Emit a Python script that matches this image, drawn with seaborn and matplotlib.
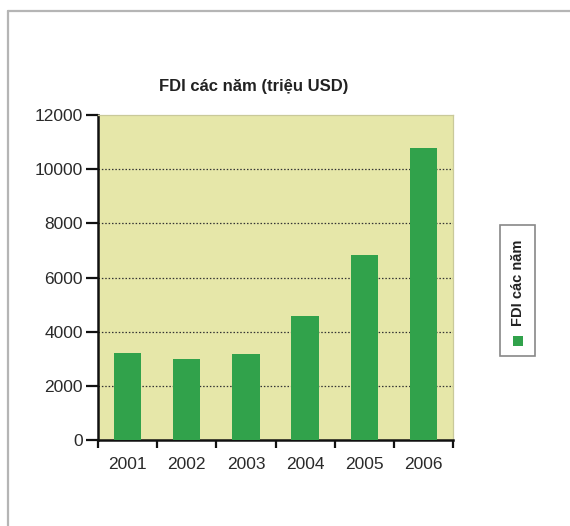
import matplotlib
matplotlib.use("Agg")
import matplotlib.pyplot as plt
from matplotlib.lines import Line2D
from matplotlib.patches import Rectangle
import seaborn as sns
import pandas as pd

# Data
years = ["2001", "2002", "2003", "2004", "2005", "2006"]
fdi = [3200, 3000, 3190, 4580, 6830, 10780]
y_ticks = [0, 2000, 4000, 6000, 8000, 10000, 12000]

title = "FDI các năm (triệu USD)"
legend_label = "FDI các năm"

BAR_COLOR = "#31a24b"
BG_COLOR = "#e6e7a9"
FONT = ["Liberation Sans Narrow", "Liberation Sans", "DejaVu Sans"]

sns.set_style("ticks")
plt.rcParams["font.family"] = FONT

df = pd.DataFrame({"Year": years, "FDI": fdi})

fig = plt.figure(figsize=(5.7, 5.26), dpi=100)
ax = fig.add_axes([98 / 570, 1 - 440 / 526, 355 / 570, 325 / 526])
ax.set_facecolor(BG_COLOR)

sns.barplot(data=df, x="Year", y="FDI", color=BAR_COLOR, width=0.46,
            saturation=1, edgecolor="none", linewidth=0, ax=ax, zorder=3)

ax.set_xlim(-0.5, len(years) - 0.5)
ax.set_ylim(0, 12000)
ax.set_yticks(y_ticks)
ax.set_yticklabels([str(v) for v in y_ticks], fontsize=12.5, color="#2a2a2a")
ax.set_xticks(range(len(years)))
ax.set_xticklabels(years, fontsize=12.5, color="#2a2a2a")
ax.set_xlabel("")
ax.set_ylabel("")

# ticks between categories on x, outward ticks on y
ax.set_xticks([i - 0.5 for i in range(len(years) + 1)], minor=True)
ax.tick_params(axis="x", which="major", length=0, pad=12)
ax.tick_params(axis="x", which="minor", length=6, width=1.6, color="#111111")
ax.tick_params(axis="y", length=9, width=1.6, color="#111111", pad=2)

# dotted gridlines
for v in y_ticks[1:-1]:
    ax.axhline(v, color="#333333", linestyle=(0, (1.2, 1.5)), linewidth=0.9, zorder=2)

for side in ["left", "bottom"]:
    ax.spines[side].set_color("#111111")
    ax.spines[side].set_linewidth(1.8)
for side in ["top", "right"]:
    ax.spines[side].set_visible(True)
    ax.spines[side].set_color("#c9c99a")
    ax.spines[side].set_linewidth(0.9)

fig.text(254 / 570, 1 - 86 / 526, title, ha="center", va="center",
         fontsize=12, fontweight="bold", color="#222222")

# vertical legend box on the right
fig.patches.append(Rectangle((500 / 570, 1 - 356 / 526), 35 / 570, 131 / 526,
                             transform=fig.transFigure, facecolor="white",
                             edgecolor="#888888", linewidth=1.2))
fig.patches.append(Rectangle((513 / 570, 1 - 346 / 526), 10 / 570, 10 / 526,
                             transform=fig.transFigure, facecolor=BAR_COLOR,
                             edgecolor="none"))
fig.text(518 / 570, 1 - 283 / 526, legend_label, rotation=90, ha="center",
         va="center", fontsize=10.5, fontweight="bold", color="#222222")

# light frame around the picture (top and left edges)
fig.add_artist(Line2D([8 / 570, 8 / 570], [0, 1 - 11 / 526],
                      transform=fig.transFigure, color="#b5b5b5", linewidth=1.6))
fig.add_artist(Line2D([8 / 570, 1], [1 - 11 / 526, 1 - 11 / 526],
                      transform=fig.transFigure, color="#b5b5b5", linewidth=1.6))

fig.savefig("out.png", dpi=100, facecolor="white")
